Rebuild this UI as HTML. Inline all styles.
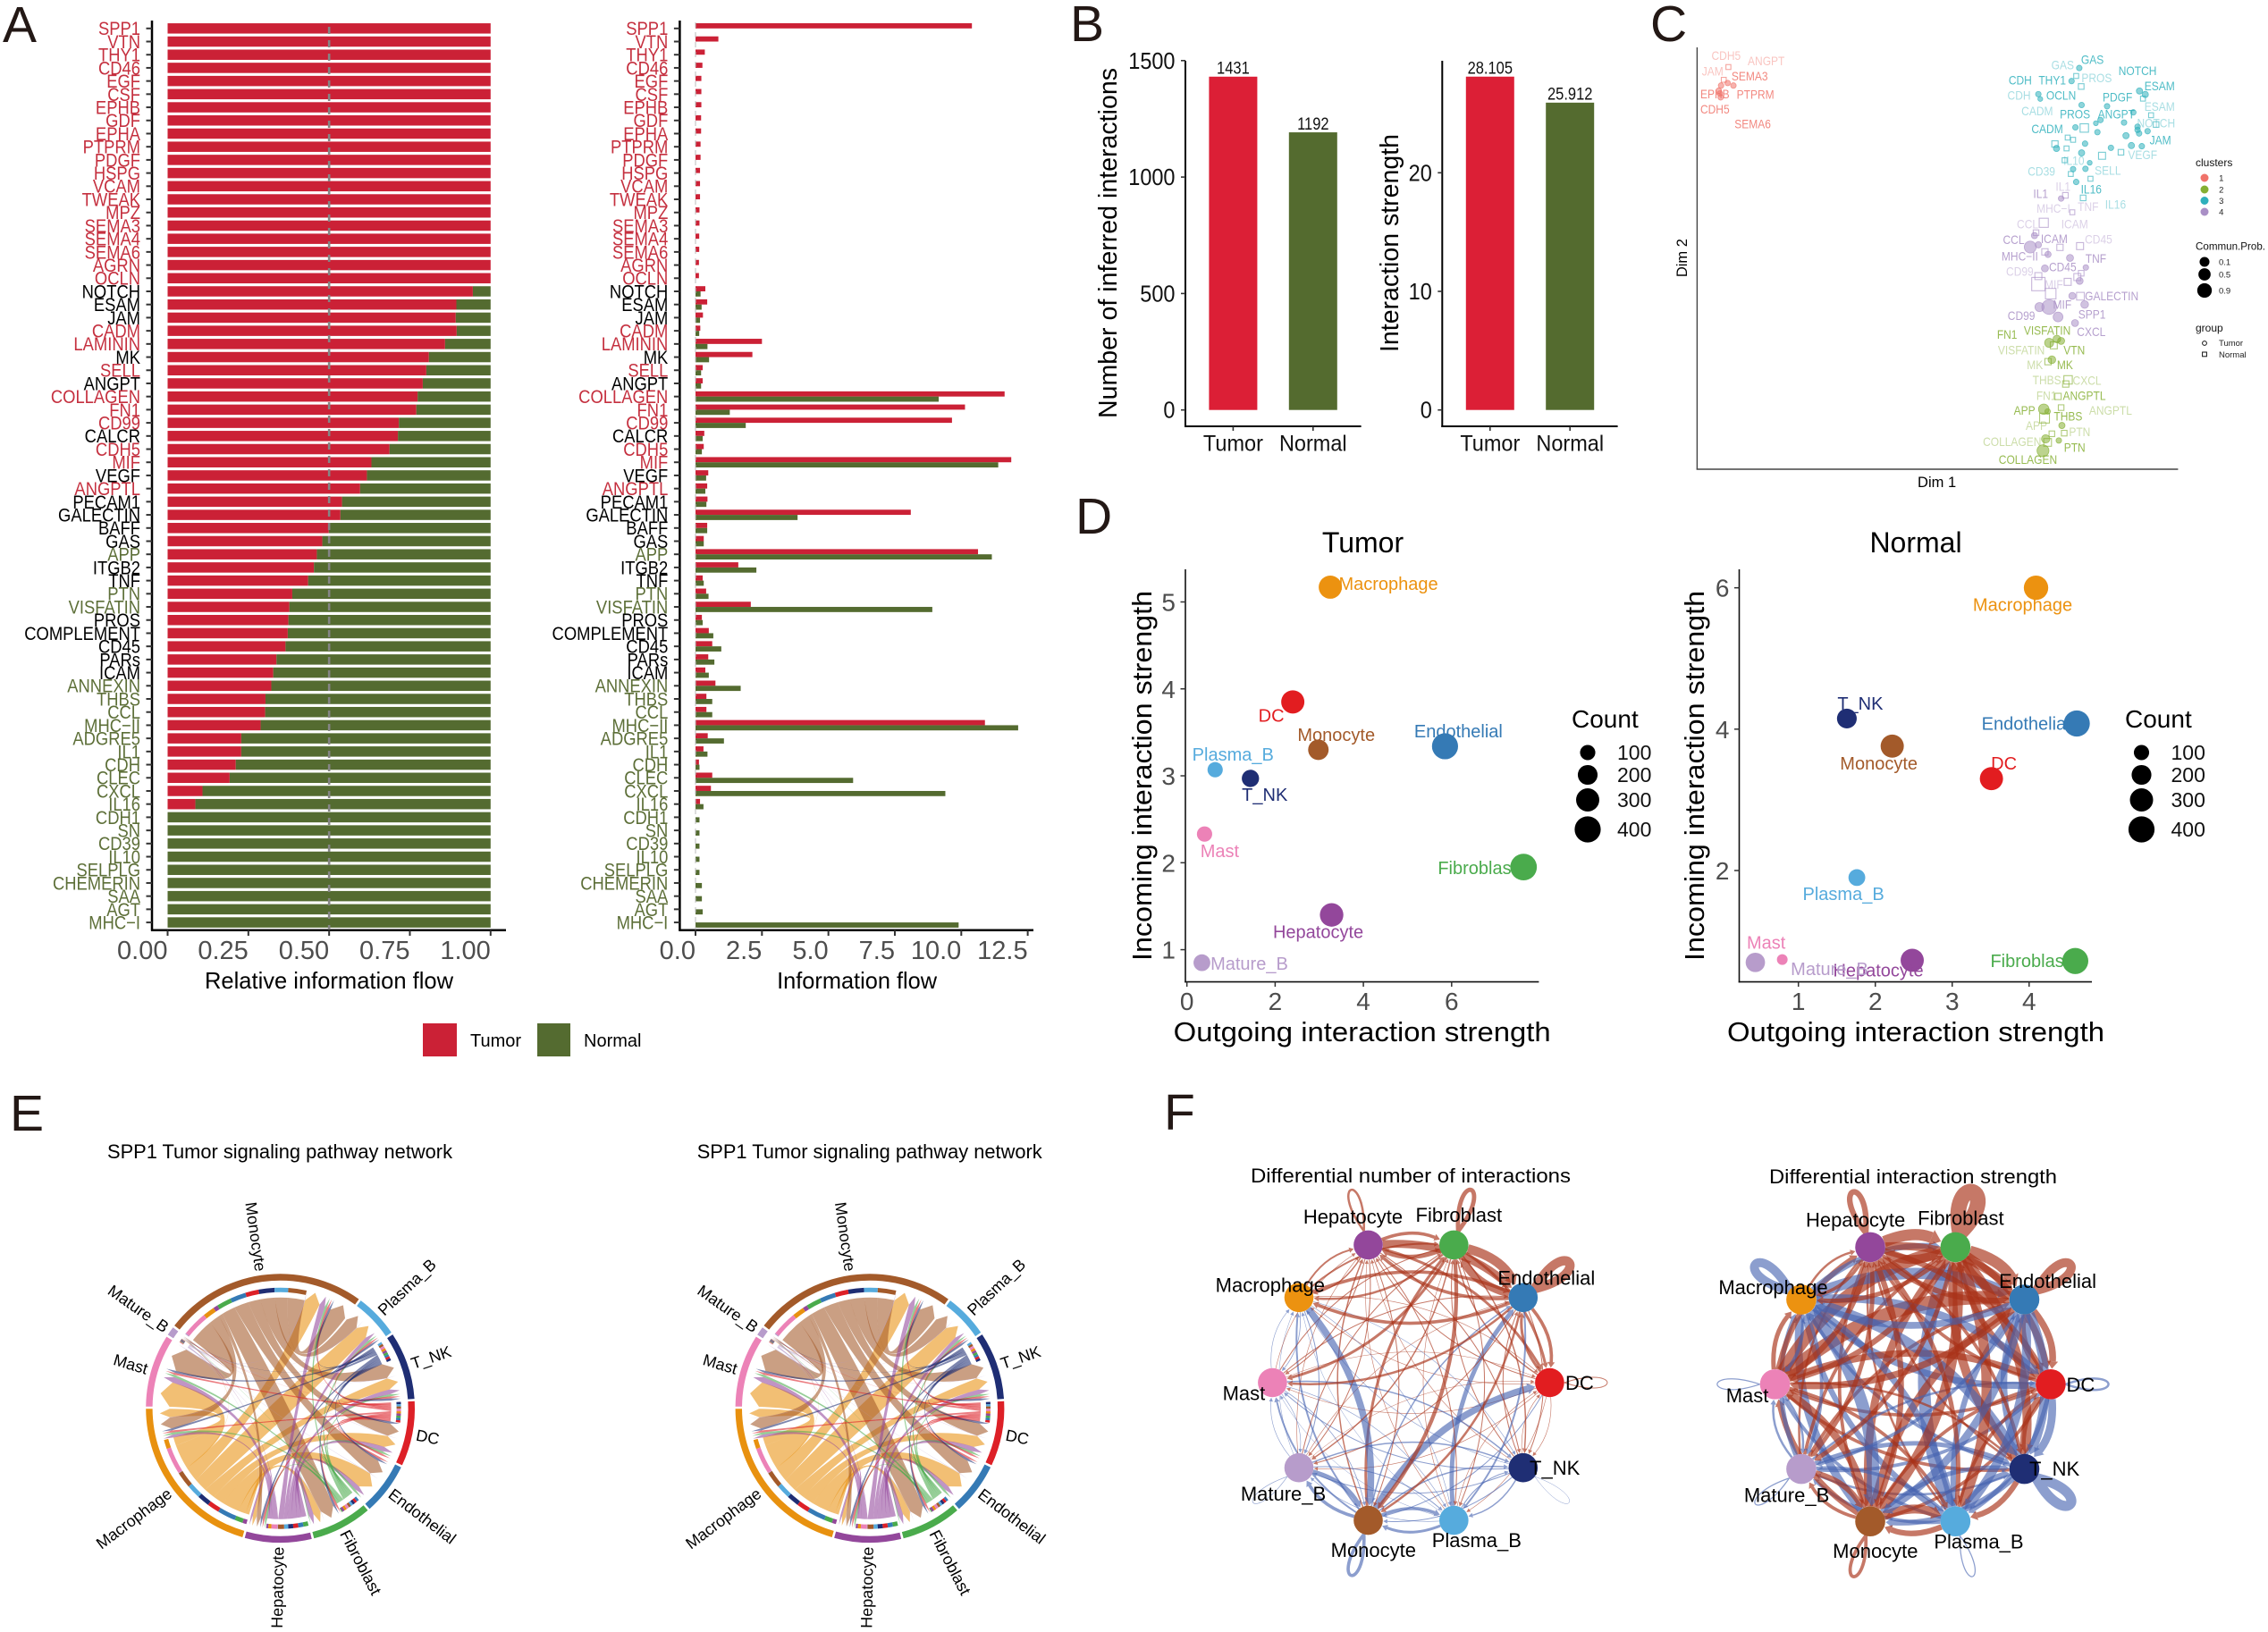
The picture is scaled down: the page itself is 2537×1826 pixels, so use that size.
<!DOCTYPE html>
<html lang="en">
<head>
<meta charset="utf-8">
<title>Cell communication comparison figure</title>
<style>
html,body{margin:0;padding:0;background:#fff;width:2537px;height:1826px;overflow:hidden}
svg{display:block}
text{font-family:"Liberation Sans",Arial,sans-serif}
</style>
</head>
<body>
<svg id="fig" width="2537" height="1826" viewBox="0 0 2537 1826">
<rect x="0" y="0" width="2537" height="1826" fill="#fff"/>

<g fill="#231815" font-size="57">
<text x="3" y="47">A</text>
<text x="1197" y="46">B</text>
<text x="1846" y="46">C</text>
<text x="1203" y="597">D</text>
<text x="11" y="1265">E</text>
<text x="1302" y="1264">F</text>
</g>

<g fill="#000">
<text x="368" y="1106" font-size="26" text-anchor="middle" textLength="278" lengthAdjust="spacingAndGlyphs">Relative information flow</text>
<text x="958.6" y="1106" font-size="26" text-anchor="middle" textLength="179" lengthAdjust="spacingAndGlyphs">Information flow</text>
<text x="526" y="1171" font-size="20">Tumor</text>
<text x="653" y="1171" font-size="20">Normal</text>
<text transform="translate(1249,272) rotate(-90)" font-size="29" text-anchor="middle" textLength="392" lengthAdjust="spacingAndGlyphs">Number of inferred interactions</text>
<text transform="translate(1564,272) rotate(-90)" font-size="29" text-anchor="middle" textLength="244" lengthAdjust="spacingAndGlyphs">Interaction strength</text>
<text x="2166.6" y="545" font-size="16.5" text-anchor="middle">Dim 1</text>
<text transform="translate(1887,288.6) rotate(-90)" font-size="16.5" text-anchor="middle">Dim 2</text>
<text x="1524.5" y="618" font-size="32" text-anchor="middle">Tumor</text>
<text x="2143" y="618" font-size="32" text-anchor="middle">Normal</text>
<text x="1523.7" y="1165" font-size="31" text-anchor="middle" textLength="422" lengthAdjust="spacingAndGlyphs">Outgoing interaction strength</text>
<text x="2143" y="1165" font-size="31" text-anchor="middle" textLength="422" lengthAdjust="spacingAndGlyphs">Outgoing interaction strength</text>
<text transform="translate(1288,868) rotate(-90)" font-size="31" text-anchor="middle" textLength="414" lengthAdjust="spacingAndGlyphs">Incoming interaction strength</text>
<text transform="translate(1906,868) rotate(-90)" font-size="31" text-anchor="middle" textLength="414" lengthAdjust="spacingAndGlyphs">Incoming interaction strength</text>
<text x="1758" y="814" font-size="28">Count</text>
<text x="2377" y="814" font-size="28">Count</text>
<text x="313" y="1296" font-size="22" text-anchor="middle" textLength="386" lengthAdjust="spacingAndGlyphs">SPP1 Tumor signaling pathway network</text>
<text x="972.7" y="1296" font-size="22" text-anchor="middle" textLength="386" lengthAdjust="spacingAndGlyphs">SPP1 Tumor signaling pathway network</text>
<text x="1578" y="1323" font-size="22" text-anchor="middle" textLength="358" lengthAdjust="spacingAndGlyphs">Differential number of interactions</text>
<text x="2140" y="1324" font-size="22" text-anchor="middle" textLength="322" lengthAdjust="spacingAndGlyphs">Differential interaction strength</text>
</g>
<g id="a"></g><g id="b"></g><g id="c"></g><g id="d"></g><g id="e"></g><g id="f"></g>
</svg>

<script>
// ---------- Panel A data ----------
const pathways = ["SPP1","VTN","THY1","CD46","EGF","CSF","EPHB","GDF","EPHA","PTPRM","PDGF","HSPG","VCAM","TWEAK","MPZ","SEMA3","SEMA4","SEMA6","AGRN","OCLN","NOTCH","ESAM","JAM","CADM","LAMININ","MK","SELL","ANGPT","COLLAGEN","FN1","CD99","CALCR","CDH5","MIF","VEGF","ANGPTL","PECAM1","GALECTIN","BAFF","GAS","APP","ITGB2","TNF","PTN","VISFATIN","PROS","COMPLEMENT","CD45","PARs","ICAM","ANNEXIN","THBS","CCL","MHC−II","ADGRE5","IL1","CDH","CLEC","CXCL","IL16","CDH1","SN","CD39","IL10","SELPLG","CHEMERIN","SAA","AGT","MHC−I"];
const blackPathways = ["NOTCH","ESAM","JAM","MK","ANGPT","CALCR","VEGF","PECAM1","GALECTIN","BAFF","GAS","ITGB2","TNF","PROS","COMPLEMENT","CD45","PARs","ICAM"];
const redPathways = ["SPP1","VTN","THY1","CD46","EGF","CSF","EPHB","GDF","EPHA","PTPRM","PDGF","HSPG","VCAM","TWEAK","MPZ","SEMA3","SEMA4","SEMA6","AGRN","OCLN","CADM","LAMININ","SELL","COLLAGEN","FN1","CD99","CDH5","MIF","ANGPTL"];
const relativeTumor = [1,1,1,1,1,1,1,1,1,1,1,1,1,1,1,1,1,1,1,1,.945,.894,.892,.895,.859,.809,.801,.790,.774,.770,.716,.713,.687,.631,.617,.596,.540,.535,.499,.479,.462,.453,.435,.386,.377,.374,.372,.365,.337,.327,.321,.303,.302,.288,.228,.228,.211,.192,.108,.086,0,0,0,0,0,0,0,0,0];
const flowTumor = [10.40,.86,.35,.26,.22,.22,.22,.21,.21,.19,.19,.17,.17,.17,.15,.15,.14,.14,.13,.13,.37,.44,.28,.18,2.5,2.14,.27,.27,11.63,10.14,9.65,.33,.31,11.88,.48,.44,.45,8.10,.44,.31,10.63,1.61,.27,.40,2.08,.24,.5,.63,.48,.37,.75,.41,.41,10.89,.46,.30,.13,.63,.58,.17,0,0,0,0,0,0,0,0,0];
const flowNormal = [0,0,0,0,0,0,0,0,0,0,0,0,0,0,0,0,0,0,0,0,.19,.23,.17,.14,.45,.51,.21,.21,9.15,1.29,1.89,.27,.24,11.39,.40,.37,.41,3.84,.44,.31,11.15,2.29,.31,.49,8.91,.27,.67,.97,.71,.5,1.70,.63,.63,12.14,1.07,.45,.15,5.93,9.40,.30,.15,.15,.15,.15,.15,.24,.24,.27,9.90];
const relTicks = [0,.25,.5,.75,1];
const relTickLabels = ["0.00","0.25","0.50","0.75","1.00"];
const flowTicks = [0,2.5,5,7.5,10,12.5];
const flowTickLabels = ["0.0","2.5","5.0","7.5","10.0","12.5"];

// ---------- Panel B data ----------
const groupNames = ["Tumor","Normal"];
const interactionCounts = [1431,1192];
const interactionCountLabels = ["1431","1192"];
const interactionStrengths = [28.105,25.912];
const interactionStrengthLabels = ["28.105","25.912"];
const countTicks = [0,500,1000,1500];
const strengthTicks = [0,10,20];

// ---------- Panel C data: [dim1, dim2, communication probability] ----------
const c1Tumor = [[1.51,12.02,.4],[1.68,12.10,.4],[1.83,12.02,.4],[1.45,11.86,.4],[1.50,11.65,.4],[1.48,11.77,.4]];
const c1Normal = [[1.70,12.60,.35],[1.58,12.20,.35]];
const c3Tumor = [[10.79,12.57,.4],[10.59,12.16,.4],[9.73,11.75,.4],[9.78,11.60,.35],[10.85,11.41,.4],[11.51,11.37,.4],[12.35,11.85,.45],[12.50,11.74,.45],[12.19,11.18,.4],[11.34,10.94,.4],[11.22,10.84,.35],[11.95,10.86,.4],[10.69,10.71,.4],[11.26,10.56,.4],[12.30,10.73,.4],[12.30,10.63,.4],[12.34,10.52,.4],[12.56,10.59,.4],[12.00,10.45,.45],[10.94,10.20,.4],[12.14,10.14,.45],[12.41,10.12,.4],[11.61,10.07,.4],[10.20,10.05,.45],[10.85,9.91,.45],[11.06,9.60,.35],[10.95,9.41,.4],[10.63,9.40,.4],[10.71,9.00,.4]];
const c3Normal = [[10.71,12.32,.35],[10.84,11.99,.4],[12.44,11.61,.35],[12.65,11.09,.35],[12.78,10.80,.4],[10.92,10.69,.6],[10.49,10.39,.35],[10.63,10.32,.35],[10.16,10.19,.45],[10.46,10.05,.35],[11.38,9.82,.5],[11.87,9.93,.4],[10.41,9.68,.35],[10.57,9.25,.35],[11.08,9.10,.35],[10.89,8.50,.4]];
const c4Tumor = [[10.32,8.48,.4],[9.63,7.32,.45],[9.73,7.03,.45],[9.52,6.96,.85],[9.98,6.73,.45],[10.55,6.62,.5],[9.90,6.29,.5],[10.96,6.32,.4],[10.80,5.90,.5],[10.61,5.43,.5],[10.93,5.16,.55],[9.76,5.08,.65],[10.01,5.08,1.05],[10.24,4.77,.7],[10.68,4.58,.5]];
const c4Normal = [[10.43,8.58,.4],[10.61,8.05,.35],[9.87,7.72,.65],[9.67,7.41,.4],[10.29,6.95,.45],[10.81,6.99,.5],[9.90,6.81,.45],[9.73,6.05,.5],[9.73,5.80,.95],[10.05,5.50,.75],[10.49,5.87,.5],[10.74,6.02,.5],[10.84,6.14,.4],[10.82,5.42,.55]];
const c2Tumor = [[10.21,4.08,.55],[10.32,4.02,.5],[10.01,3.96,.65],[10.08,3.43,.55],[9.87,1.88,.75],[9.97,1.81,.4],[10.34,1.37,.45],[9.92,.95,.6],[10.26,.90,.4],[9.85,.58,.85]];
const c2Normal = [[10.13,3.88,.5],[9.98,3.37,.45],[10.50,2.80,.6],[10.44,2.67,.45],[10.24,2.28,.45],[10.32,1.93,.4],[9.89,1.60,.7],[10.08,1.11,.4],[10.40,1.13,.4],[9.97,.84,.55]];
// label layout: [text, x, y, tumor?] in the zoomed panel grid
const c1Labels = [["CDH5",164,175,0],["ANGPT",268,191,0],["JAM",129,224,0],["SEMA3",225,239,1],["EPHB",135,295,1],["PTPRM",240,296,1],["CDH5",135,343,1],["SEMA6",233,389,1]];
const c3Labels = [["GAS",1113,187,1],["GAS",1036,204,0],["NOTCH",1230,223,1],["PROS",1124,245,0],["CDH",926,252,1],["THY1",1009,252,1],["ESAM",1287,270,1],["CDH",923,299,0],["OCLN",1032,299,1],["PDGF",1178,305,1],["ESAM",1287,334,0],["CADM",970,348,0],["PROS",1068,358,1],["ANGPT",1175,358,1],["NOTCH",1278,386,0],["CADM",996,405,1],["JAM",1289,439,1],["VEGF",1243,486,0],["IL10",1065,504,0],["CD39",981,537,0],["SELL",1153,534,0],["IL16",1110,594,1],["IL16",1173,641,0]];
const c4Labels = [["IL1",1037,585,0],["IL1",979,607,1],["MHC−I",1012,654,0],["TNF",1102,648,0],["CCL",945,702,0],["ICAM",1067,702,0],["CCL",909,751,1],["ICAM",1014,749,1],["CD45",1129,750,0],["MHC−II",925,803,1],["TNF",1122,811,1],["CD99",925,851,0],["CD45",1036,837,1],["MIF",1013,891,0],["GALECTIN",1163,928,1],["MIF",1035,955,1],["CD99",929,989,1],["SPP1",1112,986,1],["CXCL",1110,1040,1]];
const c2Labels = [["VISFATIN",996,1036,1],["FN1",892,1049,1],["VISFATIN",929,1097,0],["VTN",1066,1097,1],["MK",964,1143,0],["MK",1042,1143,1],["THBS",995,1191,0],["CXCL",1099,1192,0],["FN1",994,1240,0],["ANGPTL",1092,1240,1],["APP",937,1287,1],["ANGPTL",1160,1287,0],["THBS",1050,1305,1],["APP",968,1334,0],["PTN",1080,1353,0],["COLLAGEN",905,1385,0],["PTN",1067,1402,1],["COLLAGEN",946,1441,1]];
const clusterIds = ["1","2","3","4"];
const probLevels = [.1,.5,.9];
const probLabels = ["0.1","0.5","0.9"];

// ---------- Panel D data ----------
const cellTypesD = ["Macrophage","DC","Endothelial","Monocyte","Plasma_B","T_NK","Mast","Fibroblast","Hepatocyte","Mature_B"];
const cellColorsD = ["#EC9210","#E21D20","#357AB5","#A35A2A","#56ABDD","#1F2E74","#EC82B7","#4AAB4C","#93479B","#B79CCB"];
const tumorOutgoing = [3.25,2.40,5.85,2.98,.64,1.44,.40,7.63,3.28,.34];
const tumorIncoming = [5.17,3.85,3.34,3.30,3.07,2.97,2.33,1.95,1.40,.85];
const tumorCount = [300,300,400,220,100,140,100,420,310,130];
const normalOutgoing = [4.09,3.51,4.62,2.22,1.76,1.63,.79,4.60,2.48,.44];
const normalIncoming = [6.00,3.30,4.08,3.76,1.90,4.15,.74,.72,.73,.70];
const normalCount = [340,300,400,300,130,200,33,400,300,190];
const tumorLabelDx = [65,-24,15,20,20,16,17,-52,-15,53];
const tumorLabelDy = [-4,15,-17,-17,-17,18,19,1,19,1];
const normalLabelDx = [-15,14,-57,-15,-15,15,-18,-51,-38,83];
const normalLabelDy = [19,-17,0,19,18,-17,-19,0,11,7];
const tumorXTicks = [0,2,4,6];
const tumorYTicks = [1,2,3,4,5];
const normalXTicks = [1,2,3,4];
const normalYTicks = [2,4,6];
const countLevels = [100,200,300,400];
const countLabels = ["100","200","300","400"];

// ---------- Panel E data: degrees of flow, source row -> target column ----------
const chordNames = ["Monocyte","Plasma_B","T_NK","DC","Endothelial","Fibroblast","Hepatocyte","Macrophage","Mast","Mature_B"];
const chordColors = ["#A35A2A","#56ABDD","#1F2E74","#DD2027","#357AB5","#4AAB4C","#93479B","#E8910F","#EC82B7","#B79CCB"];
const fromMonocyte = [9,6.8,7.8,6.6,7.8,7.2,2.2,5.8,12.5,.5];
const fromPlasmaB = [0,0,0,0,0,0,0,0,0,0];
const fromTNK = [1.1,1.1,1.1,1.1,1.1,1.1,1.1,1.1,1.1,.2];
const fromDC = [1.1,1.1,1.1,1.1,1.1,1.1,1.1,1.1,1.1,.2];
const fromEndothelial = [0,0,0,0,0,0,0,0,0,0];
const fromFibroblast = [1.2,1.2,1.2,1.2,1.2,.4,1.2,1.2,1.2,.2];
const fromHepatocyte = [3,2,2.5,2.5,2.5,2.5,1,1.5,3,.3];
const fromMacrophage = [8,7,6,6,9,4,2,4.5,13,.3];
const fromMast = [0,0,0,0,0,0,0,0,0,0];
const fromMatureB = [.3,.2,.2,.2,.2,.2,.2,.2,.3,.1];

// ---------- Panel F data: signed differences, source row -> target column ----------
const netNames = ["DC","T_NK","Plasma_B","Monocyte","Mature_B","Mast","Macrophage","Hepatocyte","Fibroblast","Endothelial"];
const netColors = ["#E21D20","#1F2E74","#56ABDD","#A35A2A","#B79CCB","#EC82B7","#EC9210","#93479B","#4AAB4C","#357AB5"];
const diffCount = [
 [1.5,1,1,-1.5,1,1,1,1.5,2,3.5],
 [1,-.8,-2,-1.5,-1.5,-1.5,-1,1,1.5,1.5],
 [1,-1.5,0,-3.5,-1,-.8,-.8,1,1,-5],
 [-7,-2,-4,-4,-4,-2.5,-2.5,2,3.5,-2],
 [.8,-2,-1.5,-5,-1,-1,-.8,1,1.5,1],
 [.8,-2,-1,-1.2,-1,0,-1,1,1.5,1.5],
 [1,-1,-1,-7,-1.5,-1.2,0,2.5,2.5,4],
 [3.5,1.5,1.5,1.5,1.5,1.5,2,3,4,8],
 [3.5,2,1.5,4.5,2,3.5,3,5,5,9],
 [4,1.5,-2.5,3,1.5,3,4,4,8,9]];
const diffStrength = [
 [-2,-7,-4,3,-3,3,-6,3,5,6],
 [5,-9,5,-5,-2,3,-3,2,8,-6],
 [3,-5,-1,5,-3,-3,-5,2,-11,-5],
 [3,-4,8,3,3,5,-7,3,7,7],
 [-2,-4,-3,5,-1,-2,-4,2,3,3],
 [6,2,3,7,-2,-1,4,5,11,12],
 [-7,-9,-6,-11,-3,-3,-8,2,-5,-10],
 [5,3,4,5,4,5,3,5,10,7],
 [6,8,9,9,4,5,4,8,14,10],
 [6,-8,-8,-7,-3,6,-6,5,8,8]];
const netCountLabelX = [1193,1125,911,628,381,273,345,572,862,1102];
const netCountLabelY = [847,1092,1302,1330,1168,877,564,365,360,543];
const netStrengthLabelX = [1068,998,796,520,283,178,247,467,748,980];
const netStrengthLabelY = [802,1062,1287,1316,1143,835,500,290,285,480];

// ---------- Helpers ----------
const SVGNS = document.getElementById('fig').namespaceURI;
function el(tag, attrs, parent){
  const e = document.createElementNS(SVGNS, tag);
  for (const k in attrs) e.setAttribute(k, attrs[k]);
  parent.appendChild(e);
  return e;
}
function txt(parent, str, x, y, size, fill, anchor, rot){
  const e = el('text', {x:x, y:y, 'font-size':size, fill:fill, 'text-anchor':anchor||'start'}, parent);
  if (rot) e.setAttribute('transform', 'rotate(' + rot + ' ' + x + ' ' + y + ')');
  e.textContent = str;
  return e;
}
function tallTxt(parent, str, x, y, size, fill, anchor, stretch){
  const e = el('text', {x:0, y:0, 'font-size':size, fill:fill, 'text-anchor':anchor||'start', transform:'translate(' + x + ' ' + y + ') scale(1 ' + stretch + ')'}, parent);
  e.textContent = str;
  return e;
}
function seg(parent, x1, y1, x2, y2, stroke, w){
  return el('line', {x1:x1, y1:y1, x2:x2, y2:y2, stroke:stroke, 'stroke-width':w}, parent);
}

// ---------- Panel A ----------
const gA = document.getElementById('a');
const RED = '#CB2136', GREEN = '#546B30';
const yA = i => 31.8 + 14.71 * i;
const xRel = v => 187.5 + 361.3 * v;
const xFlow = v => 778 + 29.73 * v;
function labelColor(name){
  if (blackPathways.includes(name)) return '#000';
  if (redPathways.includes(name)) return '#C5303F';
  return '#5D6F38';
}
function axisA(xLine, xEnd, labelRight, panel){
  const vAxis = seg(gA, xLine, 23, xLine, 1041.5, '#000', 2.5);
  
  
  const hAxis = seg(gA, xLine - 1, 1040.7, xEnd, 1040.7, '#000', 2.5);
  
  
  pathways.forEach((name, i) => {
    const t = seg(gA, xLine - 6.5, yA(i), xLine, yA(i), '#333', 2);
    
    
    const l = tallTxt(gA, name, labelRight, yA(i) + 7.4, 18.4, labelColor(name), 'end', 1.15);
    
    
  });
}
axisA(170, 566, 157, 'relative-flow');
axisA(760.4, 1156, 747.3, 'information-flow');
pathways.forEach((name, i) => {
  const v = relativeTumor[i];
  if (v > 0) {
    const r = el('rect', {x:xRel(0), y:yA(i)-5.75, width:xRel(v)-xRel(0), height:11.5, fill:RED}, gA);
    
    
  }
  if (v < 1) {
    const r = el('rect', {x:xRel(v), y:yA(i)-5.75, width:xRel(1)-xRel(v), height:11.5, fill:GREEN}, gA);
    
    
  }
  if (flowTumor[i] > 0) {
    const r = el('rect', {x:xFlow(0), y:yA(i)-5.8, width:xFlow(flowTumor[i])-xFlow(0), height:5.8, fill:RED}, gA);
    
    
  }
  if (flowNormal[i] > 0) {
    const r = el('rect', {x:xFlow(0), y:yA(i), width:xFlow(flowNormal[i])-xFlow(0), height:5.8, fill:GREEN}, gA);
    
    
  }
});
const midLine = el('line', {x1:xRel(.5), y1:30, x2:xRel(.5), y2:1040, stroke:'#858585', 'stroke-width':2.6, 'stroke-dasharray':'8 7'}, gA);


const zeroLine = el('line', {x1:xFlow(0), y1:25, x2:xFlow(0), y2:1040, stroke:'#bbb', 'stroke-width':1, 'stroke-dasharray':'6 5'}, gA);


relTicks.forEach((v, i) => {
  const t = seg(gA, xRel(v), 1040.7, xRel(v), 1047, '#333', 2);
  
  
  const l = txt(gA, relTickLabels[i], xRel(v), 1073, 29, '#4d4d4d', 'end');
  
  
});
flowTicks.forEach((v, i) => {
  const t = seg(gA, xFlow(v), 1040.7, xFlow(v), 1047, '#333', 2);
  
  
  const l = txt(gA, flowTickLabels[i], xFlow(v), 1073, 29, '#4d4d4d', 'end');
  
  
});
const legT = el('rect', {x:473, y:1145, width:38, height:37, fill:RED}, gA);


const legN = el('rect', {x:601, y:1145, width:37, height:37, fill:GREEN}, gA);



// ---------- Panel B ----------
const gB = document.getElementById('b');
const BAR_RED = '#DC1F36', BAR_GREEN = '#546B2F';
function barChart(name, axisX, xEnd, values, valueLabels, ticks, yScale, barLeft){
  const v = seg(gB, axisX, 68, axisX, 478, '#000', 2);
  
  
  const h = seg(gB, axisX - 1, 477, xEnd, 477, '#000', 2);
  
  
  ticks.forEach(tv => {
    const t = seg(gB, axisX - 5, yScale(tv), axisX, yScale(tv), '#333', 1.6);
    
    
    const l = tallTxt(gB, String(tv), axisX - 11.5, yScale(tv) + 9, 23.5, '#111', 'end', 1.1);
    
    
  });
  values.forEach((val, i) => {
    const x = barLeft + i * 89.4;
    const r = el('rect', {x:x, y:yScale(val), width:54, height:yScale(0)-yScale(val), fill:i ? BAR_GREEN : BAR_RED}, gB);
    
    
    const vl = tallTxt(gB, valueLabels[i], x + 27, yScale(val) - 3.2, 16.5, '#111', 'middle', 1.15);
    
    
    const t = seg(gB, x + 27, 477, x + 27, 482, '#333', 1.6);
    
    
    const gl = tallTxt(gB, groupNames[i], x + 27, 504.5, 23.5, '#111', 'middle', 1.05);
    
    
  });
}
const yCount = v => 458.7 - v * 0.2606;
const yStrength = v => 458.7 - v * 13.27;
barChart('interaction-count', 1326, 1522.6, interactionCounts, interactionCountLabels, countTicks, yCount, 1352.4);
barChart('interaction-strength', 1613.3, 1809.6, interactionStrengths, interactionStrengthLabels, strengthTicks, yStrength, 1639.8);

// ---------- Panel C ----------
const gC = document.getElementById('c');
const xDim = d => 1860 + 100 * d / 2.316;
const yDim = d => (1470 - 100 * d) / 2.8;
const rProb = p => 7.84 * p;
const cAxisV = seg(gC, 1898.4, 53, 1898.4, 525.5, '#444', 1.4);


const cAxisH = seg(gC, 1897.7, 525, 2436.4, 525, '#444', 1.4);


function cluster(color, tumor, normal, labels, id){
  normal.forEach(p => {
    const r = rProb(p[2]);
    const s = el('rect', {x:xDim(p[0])-r, y:yDim(p[1])-r, width:2*r, height:2*r, fill:'none', stroke:color, 'stroke-opacity':.65, 'stroke-width':1.1}, gC);
    
    
  });
  tumor.forEach(p => {
    const c = el('circle', {cx:xDim(p[0]), cy:yDim(p[1]), r:rProb(p[2]), fill:color, 'fill-opacity':.55, stroke:color, 'stroke-opacity':.7, 'stroke-width':.8}, gC);
    
    
  });
  labels.forEach(l => {
    const t = tallTxt(gC, l[0], 1860 + l[1] / 2.316, l[2] / 2.8 + 4.6, 12, color, 'middle', 1.12);
    t.setAttribute('fill-opacity', l[3] ? .85 : .42);
    
    
  });
}
const C_COLORS = ['#F0736A','#85AF32','#2FB0BC','#A98FC6'];
cluster(C_COLORS[0], c1Tumor, c1Normal, c1Labels, '1');
cluster(C_COLORS[1], c2Tumor, c2Normal, c2Labels, '2');
cluster(C_COLORS[2], c3Tumor, c3Normal, c3Labels, '3');
cluster(C_COLORS[3], c4Tumor, c4Normal, c4Labels, '4');
const clT = txt(gC, 'clusters', 2456, 186, 12, '#111');


clusterIds.forEach((id, i) => {
  const y = [199, 212, 224.5, 237][i];
  const c = el('circle', {cx:2466, cy:y, r:4.5, fill:C_COLORS[i]}, gC);
  
  
  const t = txt(gC, id, 2484.8, y + 3.4, 9.5, '#222', 'middle');
  
  
});
const cpT = txt(gC, 'Commun.Prob.', 2456, 279.5, 12, '#111');
cpT.setAttribute('textLength', 78);
cpT.setAttribute('lengthAdjust', 'spacingAndGlyphs');


probLevels.forEach((p, i) => {
  const y = [293, 307, 325][i];
  const c = el('circle', {cx:2466, cy:y, r:5.2 + p * 3.3, fill:'#000'}, gC);
  
  
  const t = txt(gC, probLabels[i], 2482, y + 3.4, 9.5, '#222');
  
  
});
const grT = txt(gC, 'group', 2456, 371, 12, '#111');


const grC = el('circle', {cx:2466, cy:384, r:2.4, fill:'none', stroke:'#111', 'stroke-width':1}, gC);


const grS = el('rect', {x:2463.6, y:394, width:4.8, height:4.8, fill:'none', stroke:'#111', 'stroke-width':1}, gC);


const grTL = txt(gC, 'Tumor', 2482, 387, 9.5, '#222');


const grNL = txt(gC, 'Normal', 2482, 400, 9.5, '#222');



// ---------- Panel D ----------
const gD = document.getElementById('d');
const rCount = c => 2.5 + 0.605 * Math.sqrt(c);
function scatter(name, o){
  const v = seg(gD, o.axisX, 637, o.axisX, 1099.4, '#111', 1.6);
  
  
  const h = seg(gD, o.axisX - .8, 1098.6, o.axisEnd, 1098.6, '#111', 1.6);
  
  
  o.xTicks.forEach(tv => {
    const t = seg(gD, o.x(tv), 1098.6, o.x(tv), 1104, '#333', 1.5);
    
    
    const l = txt(gD, String(tv), o.x(tv), 1130, 28, '#4d4d4d', 'middle');
    
    
  });
  o.yTicks.forEach(tv => {
    const t = seg(gD, o.axisX - 5.5, o.y(tv), o.axisX, o.y(tv), '#333', 1.5);
    
    
    const l = txt(gD, String(tv), o.axisX - 11, o.y(tv) + 10, 28, '#4d4d4d', 'end');
    
    
  });
  cellTypesD.forEach((cell, i) => {
    const c = el('circle', {cx:o.x(o.out[i]), cy:o.y(o.inc[i]), r:rCount(o.count[i]), fill:cellColorsD[i]}, gD);
    
    
  });
  cellTypesD.forEach((cell, i) => {
    const l = txt(gD, cell, o.x(o.out[i]) + o.dx[i], o.y(o.inc[i]) + o.dy[i] + 7, 20, cellColorsD[i], 'middle');
    
    
  });
  countLevels.forEach((c, i) => {
    const y = [842, 867, 895, 928][i];
    const k = el('circle', {cx:o.legendX, cy:y, r:rCount(c), fill:'#000'}, gD);
    
    
    const t = txt(gD, countLabels[i], o.legendX + 33, y + 8, 23, '#111');
    
    
  });
}
scatter('tumor-scatter', {
  axisX:1326, axisEnd:1721.4,
  x: v => 1240 + (106 + 59.67 * v) / 1.209,
  y: v => 560 + (1271 - 246 * (v - 1)) / 2.529,
  xTicks:tumorXTicks, yTicks:tumorYTicks,
  out:tumorOutgoing, inc:tumorIncoming, count:tumorCount,
  dx:tumorLabelDx, dy:tumorLabelDy, legendX:1776
});
scatter('normal-scatter', {
  axisX:1945.5, axisEnd:2340,
  x: v => 1240 + (933 + 104 * (v - 1)) / 1.209,
  y: v => 560 + (1047 - 200 * (v - 2)) / 2.529,
  xTicks:normalXTicks, yTicks:normalYTicks,
  out:normalOutgoing, inc:normalIncoming, count:normalCount,
  dx:normalLabelDx, dy:normalLabelDy, legendX:2395.5
});

// ---------- Panel E ----------
const gE = document.getElementById('e');
const chordMatrix = [fromMonocyte, fromPlasmaB, fromTNK, fromDC, fromEndothelial, fromFibroblast, fromHepatocyte, fromMacrophage, fromMast, fromMatureB];
function chord(cx, cy, suffix){
  const n = chordNames.length, GAP = 1;
  const rad = a => a * Math.PI / 180;
  const pt = (r, a) => [cx + r * Math.sin(rad(a)), cy - r * Math.cos(rad(a))];
  const f = p => p[0].toFixed(2) + ' ' + p[1].toFixed(2);
  const annulus = (r0, r1, a0, a1) => {
    const large = a1 - a0 > 180 ? 1 : 0;
    return 'M' + f(pt(r1, a0)) + 'A' + r1 + ' ' + r1 + ' 0 ' + large + ' 1 ' + f(pt(r1, a1)) +
      'L' + f(pt(r0, a1)) + 'A' + r0 + ' ' + r0 + ' 0 ' + large + ' 0 ' + f(pt(r0, a0)) + 'Z';
  };
  const outSum = chordMatrix.map(r => r.reduce((a, b) => a + b, 0));
  const inSum = chordNames.map((_, j) => chordMatrix.reduce((a, r) => a + r[j], 0));
  const total = outSum.reduce((a, b) => a + b, 0) + inSum.reduce((a, b) => a + b, 0);
  const k = (360 - n * GAP) / total;
  const outSeg = {}, inSeg = {};
  let ang = -52;
  const sectors = [];
  for (let i = 0; i < n; i++) {
    const start = ang;
    const outs = [...Array(n).keys()].filter(j => chordMatrix[i][j] > 0).sort((a, b) => ((b - i + n) % n) - ((a - i + n) % n));
    outs.forEach(j => {
      const w = chordMatrix[i][j] * k;
      outSeg[i + '-' + j] = [ang, ang + w];
      ang += w;
    });
    const ins = [...Array(n).keys()].filter(s => chordMatrix[s][i] > 0).sort((a, b) => ((b - i + n) % n) - ((a - i + n) % n));
    ins.forEach(s => {
      const w = chordMatrix[s][i] * k;
      inSeg[s + '-' + i] = [ang, ang + w];
      ang += w;
    });
    sectors.push([start, ang]);
    ang += GAP;
  }
  const R = 124, TIP = 135, SH = 124;
  const ctrl = (a, b, r) => {
    let d = ((b - a) % 360 + 360) % 360;
    if (d > 180) d -= 360;
    return pt(r * .1, a + d / 2);
  };
  [7, 0, 6, 5, 3, 2, 9].forEach(i => {
    for (let j = 0; j < n; j++) {
      if (!(chordMatrix[i][j] > 0)) continue;
      const s = outSeg[i + '-' + j], t = inSeg[i + '-' + j];
      const d = 'M' + f(pt(R, s[0])) + 'A' + R + ' ' + R + ' 0 0 1 ' + f(pt(R, s[1])) +
        'Q' + f(ctrl(s[1], t[0], R)) + ' ' + f(pt(SH, t[0])) +
        'L' + f(pt(TIP, (t[0] + t[1]) / 2)) +
        'L' + f(pt(SH, t[1])) +
        'Q' + f(ctrl(t[1], s[0], R)) + ' ' + f(pt(R, s[0])) + 'Z';
      const p = el('path', {d:d, fill:chordColors[i], 'fill-opacity':.58}, gE);
      
      
    }
  });
  for (const key in outSeg) {
    const j = +key.split('-')[1];
    const strip = el('path', {d:annulus(130, 135, outSeg[key][0], outSeg[key][1]), fill:chordColors[j]}, gE);
    
    
  }
  sectors.forEach((s, i) => {
    const ring = el('path', {d:annulus(143, 150.4, s[0], s[1]), fill:chordColors[i]}, gE);
    
    
    const mid = (s[0] + s[1]) / 2;
    const norm = (mid % 360 + 360) % 360;
    const right = norm < 180;
    const pos = pt(155, mid);
    const t = txt(gE, chordNames[i], pos[0], pos[1], 18, '#000', right ? 'start' : 'end', right ? mid - 90 : mid + 90);
    t.setAttribute('dy', '.35em');
    
    
  });
}
chord(313.6, 1575.7, 'left');
chord(973, 1575.7, 'right');

// ---------- Panel F ----------
const gF = document.getElementById('f');
function network(name, o){
  const n = netNames.length;
  const pos = i => {
    const a = i * 36 * Math.PI / 180;
    return [o.cx + o.rx * Math.cos(a), o.cy + o.ry * Math.sin(a)];
  };
  const colorOf = v => v > 0 ? '#A93218' : '#4563B0';
  const opOf = v => v > 0 ? .66 : .62;
  for (let i = 0; i < n; i++) {
    for (let j = 0; j < n; j++) {
      const v = o.matrix[i][j];
      if (!v) continue;
      const w = o.width(Math.abs(v));
      const s = pos(i), e = pos(j);
      if (i === j) {
        const dx = s[0] - o.cx, dy = s[1] - o.cy, len = Math.hypot(dx, dy);
        const ux = dx / len, uy = dy / len, vx = -uy, vy = ux;
        const L = 62 * 1.3, W = 20 + w * .8;
        const d = 'M' + (s[0] + ux * o.r) + ' ' + (s[1] + uy * o.r) +
          'C' + (s[0] + ux * L + vx * W) + ' ' + (s[1] + uy * L + vy * W) + ' ' +
          (s[0] + ux * L - vx * W) + ' ' + (s[1] + uy * L - vy * W) + ' ' +
          (s[0] + ux * o.r) + ' ' + (s[1] + uy * o.r);
        const loop = el('path', {d:d, fill:'none', stroke:colorOf(v), 'stroke-opacity':opOf(v), 'stroke-width':w}, gF);
        
        
        continue;
      }
      const mx = (s[0] + e[0]) / 2, my = (s[1] + e[1]) / 2;
      const ex = e[0] - s[0], ey = e[1] - s[1];
      const c = [mx + ey * .2, my - ex * .2];
      const d1 = Math.hypot(c[0] - s[0], c[1] - s[1]), d2 = Math.hypot(c[0] - e[0], c[1] - e[1]);
      const a = [s[0] + (c[0] - s[0]) / d1 * o.r, s[1] + (c[1] - s[1]) / d1 * o.r];
      const arrow = 4 + w * .6;
      const ux = (c[0] - e[0]) / d2, uy = (c[1] - e[1]) / d2;
      const tip = [e[0] + ux * (o.r + .5), e[1] + uy * (o.r + .5)];
      const base = [tip[0] + ux * arrow, tip[1] + uy * arrow];
      const line = el('path', {d:'M' + a[0] + ' ' + a[1] + 'Q' + c[0] + ' ' + c[1] + ' ' + base[0] + ' ' + base[1], fill:'none', stroke:colorOf(v), 'stroke-opacity':opOf(v), 'stroke-width':w}, gF);
      
      
      const hw = (w + 3) * .6;
      const head = el('polygon', {points: tip[0] + ',' + tip[1] + ' ' + (base[0] - uy * hw) + ',' + (base[1] + ux * hw) + ' ' + (base[0] + uy * hw) + ',' + (base[1] - ux * hw), fill:colorOf(v), 'fill-opacity':opOf(v)}, gF);
      
      
    }
  }
  for (let i = 0; i < n; i++) {
    const p = pos(i);
    const c = el('circle', {cx:p[0], cy:p[1], r:o.r, fill:netColors[i]}, gF);
    
    
  }
  for (let i = 0; i < n; i++) {
    const t = txt(gF, netNames[i], o.ox + o.lx[i] / o.sx, o.oy + o.ly[i] / o.sy + 7.7, 22, '#000', 'middle');
    
    
  }
}
network('count-network', {cx:1578.4, cy:1547, rx:155, ry:162, r:16.3, matrix:diffCount, width:v => Math.max(.5, .6 * Math.pow(v, 1.3)), lx:netCountLabelX, ly:netCountLabelY, ox:1280, oy:1220, sx:2.45, sy:2.587});
network('strength-network', {cx:2139.7, cy:1548.8, rx:154.2, ry:161.3, r:16.8, matrix:diffStrength, width:v => Math.max(.7, v * 1.25), lx:netStrengthLabelX, ly:netStrengthLabelY, ox:1880, oy:1260, sx:2.387, sy:2.77});
</script>
</body>
</html>
